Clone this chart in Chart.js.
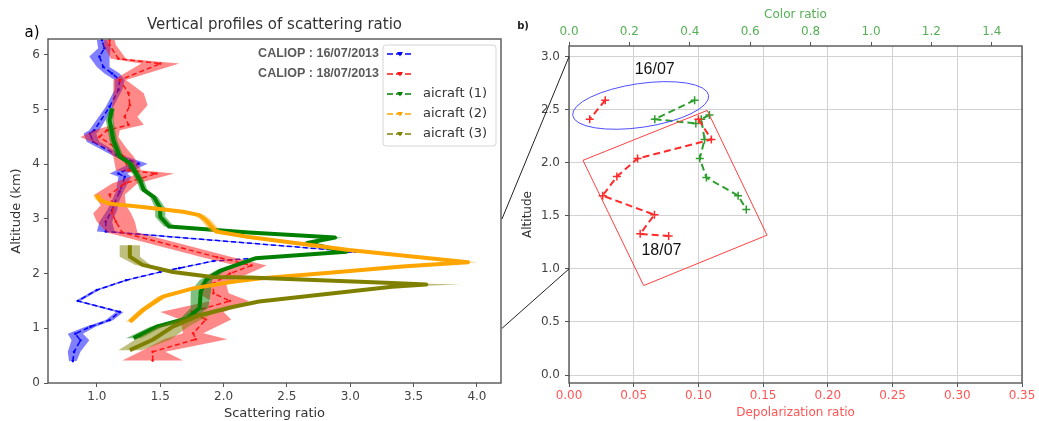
<!DOCTYPE html>
<html>
<head>
<meta charset="utf-8">
<title>Scattering ratio profiles</title>
<script src="https://cdn.jsdelivr.net/npm/chart.js@4.4.1/dist/chart.umd.min.js"></script>
<style>
    html, body { margin: 0; padding: 0; background: #fff; }
    #wrap { position: relative; width: 1039px; height: 421px; overflow: hidden; }
    #wrap canvas { position: absolute; top: 0; }
    #chart-a { left: 0; }
    #chart-b { left: 505px; }
    #links { left: 0; pointer-events: none; }
</style>
</head>
<body>
<div id="wrap">
    <canvas id="chart-a" width="505" height="421"></canvas>
    <canvas id="chart-b" width="534" height="421"></canvas>
    <canvas id="links" width="1039" height="421"></canvas>
</div>
<script>
(function () {
    'use strict';

    // ---- a) vertical profiles: altitude [km], scattering ratio, half-width of shaded band
    var seriesLabels = ['CALIOP : 16/07/2013', 'CALIOP : 18/07/2013', 'aicraft (1)', 'aicraft (2)', 'aicraft (3)'];

    var cal16Alt = [0.40, 0.57, 0.78, 0.90, 1.03, 1.15, 1.30, 1.50, 1.70, 1.88, 2.03, 2.10, 2.23, 2.40, 2.77, 2.95, 3.16, 3.29, 3.50, 3.77, 3.83, 4.01, 4.17, 4.41, 4.56, 4.62, 5.05, 5.36, 5.54, 5.66, 5.78, 5.97, 6.12, 6.27];
    var cal16Sr  = [0.81, 0.82, 0.87, 0.83, 0.95, 1.10, 1.18, 0.85, 1.00, 1.23, 1.50, 1.65, 1.92, 3.04, 1.07, 1.07, 1.12, 1.14, 1.18, 1.22, 1.17, 1.33, 1.155, 0.97, 0.945, 0.98, 1.10, 1.17, 1.18, 1.12, 1.05, 1.02, 1.06, 1.04];
    var cal16Err = [0.03, 0.05, 0.07, 0.06, 0.04, 0.03, 0.03, 0.02, 0.02, 0.02, 0.02, 0.02, 0.02, 0.03, 0.07, 0.05, 0.04, 0.03, 0.03, 0.05, 0.07, 0.07, 0.04, 0.05, 0.05, 0.04, 0.03, 0.03, 0.04, 0.06, 0.05, 0.08, 0.05, 0.04];

    var cal18Alt = [0.41, 0.57, 0.80, 0.91, 1.16, 1.30, 1.50, 1.64, 1.82, 2.00, 2.15, 2.30, 2.75, 2.95, 3.10, 3.25, 3.44, 3.65, 3.83, 3.89, 4.14, 4.29, 4.50, 4.62, 4.72, 4.87, 5.08, 5.30, 5.54, 5.84, 5.93, 6.18, 6.27];
    var cal18Sr  = [1.44, 1.44, 1.78, 1.76, 1.86, 1.75, 2.05, 1.92, 1.92, 2.05, 2.22, 1.95, 1.20, 1.15, 1.12, 1.13, 1.10, 1.22, 1.47, 1.25, 1.21, 1.155, 1.02, 1.08, 1.25, 1.22, 1.26, 1.25, 1.18, 1.50, 1.17, 1.10, 1.10];
    var cal18Err = [0.24, 0.10, 0.25, 0.08, 0.20, 0.25, 0.15, 0.12, 0.10, 0.15, 0.12, 0.12, 0.12, 0.15, 0.15, 0.10, 0.12, 0.10, 0.14, 0.10, 0.08, 0.08, 0.15, 0.10, 0.12, 0.10, 0.14, 0.12, 0.05, 0.15, 0.06, 0.05, 0.04];

    var air1Alt = [0.82, 1.03, 1.18, 1.37, 1.67, 1.88, 2.05, 2.28, 2.40, 2.56, 2.66, 2.75, 2.86, 3.04, 3.20, 3.40, 3.53, 3.71, 4.02, 4.14, 4.44, 4.81, 5.02];
    var air1Sr  = [1.29, 1.47, 1.71, 1.81, 1.82, 1.86, 1.97, 2.25, 2.97, 2.66, 2.88, 2.20, 1.57, 1.50, 1.50, 1.45, 1.37, 1.34, 1.26, 1.18, 1.13, 1.10, 1.12];
    var air1Err = [0.06, 0.05, 0.05, 0.07, 0.08, 0.05, 0.04, 0.03, 0.05, 0.04, 0.06, 0.03, 0.04, 0.04, 0.04, 0.03, 0.03, 0.03, 0.03, 0.03, 0.03, 0.03, 0.02];

    var air2Alt = [1.12, 1.33, 1.58, 1.73, 1.85, 1.91, 2.02, 2.13, 2.21, 2.43, 2.67, 2.77, 2.98, 3.07, 3.13, 3.22, 3.28, 3.35, 3.44];
    var air2Sr  = [1.26, 1.36, 1.52, 1.76, 2.07, 2.28, 2.86, 3.41, 3.93, 2.99, 2.20, 1.94, 1.86, 1.81, 1.68, 1.36, 1.10, 1.02, 1.00];
    var air2Err = [0.03, 0.03, 0.04, 0.04, 0.03, 0.03, 0.03, 0.04, 0.08, 0.04, 0.03, 0.04, 0.04, 0.04, 0.04, 0.04, 0.04, 0.03, 0.03];

    var air3Alt = [0.60, 0.79, 1.03, 1.24, 1.39, 1.49, 1.76, 1.80, 1.83, 1.93, 1.94, 2.03, 2.16, 2.31, 2.52];
    var air3Sr  = [1.26, 1.44, 1.60, 1.81, 2.07, 2.28, 3.33, 3.60, 3.33, 2.20, 1.91, 1.60, 1.36, 1.26, 1.26];
    var air3Err = [0.09, 0.14, 0.12, 0.08, 0.05, 0.04, 0.06, 0.27, 0.06, 0.04, 0.04, 0.04, 0.06, 0.08, 0.08];

    // ---- b) depolarization ratio (bottom axis) and color ratio (top axis)
    var depol16Alt = [2.59, 2.41];
    var depol16    = [0.028, 0.016];
    var depol18Alt = [2.41, 2.22, 2.04, 1.87, 1.69, 1.51, 1.33, 1.31];
    var depol18    = [0.100, 0.110, 0.053, 0.037, 0.026, 0.066, 0.055, 0.077];
    var color16Alt = [2.59, 2.41, 2.37];
    var color16    = [0.416, 0.284, 0.42];
    var color18Alt = [2.45, 2.41, 2.22, 2.04, 1.86, 1.69, 1.56];
    var color18    = [0.465, 0.438, 0.449, 0.433, 0.455, 0.56, 0.587];

    var FONT = 'DejaVu Sans';

    function linePoints(alt, val) {
        return alt.map(function (a, i) { return { x: val[i], y: a }; });
    }

    // polygon: right edge going up, left edge coming back down (fill_betweenx)
    function bandPoints(alt, val, err) {
        var pts = [];
        var i;
        for (i = 0; i < alt.length; i++) pts.push({ x: val[i] + err[i], y: alt[i] });
        for (i = alt.length - 1; i >= 0; i--) pts.push({ x: val[i] - err[i], y: alt[i] });
        return pts;
    }

    var profiles = [
        { alt: cal16Alt, val: cal16Sr, err: cal16Err, rgb: '0,0,255', width: 1.5, dash: [5, 3], radius: 1.3 },
        { alt: cal18Alt, val: cal18Sr, err: cal18Err, rgb: '255,20,20', width: 1.5, dash: [5, 3], radius: 1.3 },
        { alt: air1Alt, val: air1Sr, err: air1Err, rgb: '0,128,0', width: 4, dash: [], radius: 0 },
        { alt: air2Alt, val: air2Sr, err: air2Err, rgb: '255,165,0', width: 4, dash: [], radius: 0 },
        { alt: air3Alt, val: air3Sr, err: air3Err, rgb: '128,128,0', width: 4, dash: [], radius: 0 },
    ];

    var datasetsA = [];
    profiles.forEach(function (p, i) {
        datasetsA.push({
            label: seriesLabels[i] + ' band',
            data: bandPoints(p.alt, p.val, p.err),
            fill: 'shape',
            backgroundColor: 'rgba(' + p.rgb + ',0.5)',
            borderColor: 'rgba(0,0,0,0)',
            borderWidth: 0,
            pointRadius: 0,
            tension: 0,
        });
        datasetsA.push({
            label: seriesLabels[i],
            data: linePoints(p.alt, p.val),
            fill: false,
            borderColor: 'rgb(' + p.rgb + ')',
            backgroundColor: 'rgb(' + p.rgb + ')',
            borderWidth: p.width,
            borderDash: p.dash,
            borderJoinStyle: 'round',
            pointRadius: p.radius,
            pointBorderWidth: 0,
            tension: 0,
        });
    });
    // later series sit on top
    datasetsA.forEach(function (ds, k) { ds.order = datasetsA.length - k; });

    var framePlugin = {
        id: 'frame',
        afterDraw: function (chart) {
            var a = chart.chartArea;
            var ctx = chart.ctx;
            ctx.save();
            ctx.strokeStyle = '#555';
            ctx.lineWidth = 1.4;
            ctx.strokeRect(a.left, a.top, a.right - a.left, a.bottom - a.top);
            ctx.restore();
        }
    };

    var legendRowsY = [54, 74, 94, 114, 134];

    var legendPlugin = {
        id: 'legendA',
        afterDraw: function (chart) {
            var ctx = chart.ctx;
            ctx.save();
            // panel letter
            ctx.fillStyle = '#000';
            ctx.font = '15px "' + FONT + '"';
            ctx.textAlign = 'center';
            ctx.textBaseline = 'middle';
            ctx.fillText('a)', 32, 33);

            // legend box
            ctx.beginPath();
            ctx.roundRect(383, 45, 113, 101, 3);
            ctx.fillStyle = 'rgba(255,255,255,0.85)';
            ctx.fill();
            ctx.strokeStyle = '#d6d6d6';
            ctx.lineWidth = 1;
            ctx.stroke();

            profiles.forEach(function (p, i) {
                var y = legendRowsY[i];
                var col = 'rgb(' + p.rgb + ')';
                ctx.strokeStyle = col;
                ctx.lineWidth = 1.5;
                ctx.setLineDash([6, 3]);
                ctx.beginPath();
                ctx.moveTo(387, y);
                ctx.lineTo(413, y);
                ctx.stroke();
                ctx.setLineDash([]);
                ctx.fillStyle = col;
                ctx.beginPath();
                ctx.moveTo(397, y - 2);
                ctx.lineTo(403, y - 2);
                ctx.lineTo(400, y + 2.5);
                ctx.closePath();
                ctx.fill();

                ctx.textBaseline = 'middle';
                if (i < 2) {
                    ctx.fillStyle = '#5a5a5a';
                    ctx.font = 'bold 12.5px "Liberation Sans"';
                    ctx.textAlign = 'right';
                    ctx.fillText(seriesLabels[i], 379, y);
                } else {
                    ctx.fillStyle = '#333';
                    ctx.font = '13px "' + FONT + '"';
                    ctx.textAlign = 'left';
                    ctx.fillText(seriesLabels[i], 423, y);
                }
            });
            ctx.restore();
        }
    };

    var chartA = new Chart(document.getElementById('chart-a'), {
        type: 'line',
        data: { datasets: datasetsA },
        options: {
            responsive: false,
            animation: false,
            events: [],
            layout: { padding: { top: 0, right: 3, left: 0, bottom: 0 } },
            plugins: {
                legend: { display: false },
                tooltip: { enabled: false },
                title: {
                    display: true,
                    text: 'Vertical profiles of scattering ratio',
                    fullSize: false,
                    color: '#333',
                    font: { family: FONT, size: 15, weight: 'normal' },
                    padding: { top: 16, bottom: 5 },
                },
            },
            scales: {
                x: {
                    type: 'linear',
                    min: 0.614,
                    max: 4.19,
                    afterFit: function (s) { s.height = 38; },
                    border: { display: false },
                    grid: { drawOnChartArea: false, tickLength: 4, tickColor: '#555' },
                    ticks: {
                        stepSize: 0.5, includeBounds: false, padding: 3, color: '#444',
                        font: { family: FONT, size: 12 }, maxRotation: 0, autoSkip: false,
                        callback: function (v) { return v.toFixed(1); },
                    },
                    title: { display: true, text: 'Scattering ratio', color: '#333', font: { family: FONT, size: 13 }, padding: 0 },
                },
                y: {
                    type: 'linear',
                    min: 0,
                    max: 6.29,
                    afterFit: function (s) { s.width = 48; },
                    border: { display: false },
                    grid: { drawOnChartArea: false, tickLength: 4, tickColor: '#555' },
                    ticks: {
                        stepSize: 1, includeBounds: false, padding: 4, color: '#444',
                        font: { family: FONT, size: 12 },
                        callback: function (v) { return String(v); },
                    },
                    title: { display: true, text: 'Altitude (km)', color: '#333', font: { family: FONT, size: 13 }, padding: { top: 9, bottom: 0 } },
                },
            },
        },
        plugins: [framePlugin, legendPlugin],
    });

    // ---- panel b
    var RED = '#ff2b2b';
    var GREEN = '#2e9e2e';

    // annotation shapes, placed in data units (depolarization ratio, altitude)
    var ellipseSpec = { cx: 0.0554, cy: 2.54, rx: 0.0531, ry: 0.206, rot: -0.146 };
    var boxCorners = [[0.1068, 2.493], [0.0108, 2.023], [0.0577, 0.843], [0.1530, 1.318]];
    var dateNotes = [['16/07', 0.0662, 2.875], ['18/07', 0.0714, 1.171]];

    var annotPlugin = {
        id: 'annotB',
        afterDatasetsDraw: function (chart) {
            var ctx = chart.ctx;
            var xs = chart.scales.x;
            var ys = chart.scales.y;
            ctx.save();

            var cx = xs.getPixelForValue(ellipseSpec.cx);
            var cy = ys.getPixelForValue(ellipseSpec.cy);
            var rx = xs.getPixelForValue(ellipseSpec.cx + ellipseSpec.rx) - cx;
            var ry = cy - ys.getPixelForValue(ellipseSpec.cy + ellipseSpec.ry);
            ctx.strokeStyle = '#4d4dff';
            ctx.lineWidth = 1;
            ctx.beginPath();
            ctx.ellipse(cx, cy, rx, ry, ellipseSpec.rot, 0, Math.PI * 2);
            ctx.stroke();

            ctx.strokeStyle = '#ff4040';
            ctx.beginPath();
            boxCorners.forEach(function (c, i) {
                var px = xs.getPixelForValue(c[0]);
                var py = ys.getPixelForValue(c[1]);
                if (i === 0) ctx.moveTo(px, py); else ctx.lineTo(px, py);
            });
            ctx.closePath();
            ctx.stroke();

            ctx.fillStyle = '#111';
            ctx.font = '16px "Liberation Sans"';
            ctx.textAlign = 'center';
            ctx.textBaseline = 'middle';
            dateNotes.forEach(function (n) {
                ctx.fillText(n[0], xs.getPixelForValue(n[1]), ys.getPixelForValue(n[2]));
            });

            ctx.fillStyle = '#222';
            ctx.font = 'bold 10px "' + FONT + '"';
            ctx.fillText('b)', 18, 26);
            ctx.restore();
        }
    };

    function profileB(label, alt, val, color, axis) {
        return {
            label: label,
            data: linePoints(alt, val),
            xAxisID: axis,
            fill: false,
            borderColor: color,
            backgroundColor: color,
            borderWidth: 2,
            borderDash: [7, 4],
            pointStyle: 'cross',
            pointRadius: 4,
            pointBorderWidth: 1.5,
            pointBorderColor: color,
            tension: 0,
        };
    }

    var chartB = new Chart(document.getElementById('chart-b'), {
        type: 'line',
        data: {
            datasets: [
                profileB('Depolarization 16/07', depol16Alt, depol16, RED, 'x'),
                profileB('Depolarization 18/07', depol18Alt, depol18, RED, 'x'),
                profileB('Color ratio 16/07', color16Alt, color16, GREEN, 'x2'),
                profileB('Color ratio 18/07', color18Alt, color18, GREEN, 'x2'),
            ],
        },
        options: {
            responsive: false,
            animation: false,
            events: [],
            layout: { padding: { top: 0, right: 17, left: 0, bottom: 0 } },
            plugins: { legend: { display: false }, tooltip: { enabled: false } },
            scales: {
                x: {
                    type: 'linear',
                    position: 'bottom',
                    min: 0,
                    max: 0.35,
                    afterFit: function (s) { s.height = 38; },
                    border: { display: false },
                    grid: { color: '#d2d2d2', lineWidth: 1, tickLength: 4, tickColor: '#555' },
                    ticks: {
                        stepSize: 0.05, includeBounds: false, padding: 2, color: '#ff5555',
                        font: { family: FONT, size: 12 }, maxRotation: 0, autoSkip: false,
                        callback: function (v) { return v.toFixed(2); },
                    },
                    title: { display: true, text: 'Depolarization ratio', color: '#ff5555', font: { family: FONT, size: 12 }, padding: 1 },
                },
                x2: {
                    type: 'linear',
                    position: 'top',
                    min: 0,
                    max: 1.5,
                    afterFit: function (s) { s.height = 46; },
                    border: { display: false },
                    grid: { drawOnChartArea: false, tickLength: 4, tickColor: '#555' },
                    ticks: {
                        stepSize: 0.2, includeBounds: false, padding: 3, color: '#55b055',
                        font: { family: FONT, size: 12 }, maxRotation: 0, autoSkip: false,
                        callback: function (v) { return v.toFixed(1); },
                    },
                    title: { display: true, text: 'Color ratio', color: '#55b055', font: { family: FONT, size: 12 }, padding: { top: 8, bottom: 0 } },
                },
                y: {
                    type: 'linear',
                    min: -0.075,
                    max: 3.1,
                    afterFit: function (s) { s.width = 64; },
                    border: { display: false },
                    grid: { color: '#d2d2d2', lineWidth: 1, tickLength: 4, tickColor: '#555' },
                    ticks: {
                        stepSize: 0.5, includeBounds: false, padding: 5, color: '#444',
                        font: { family: FONT, size: 12 },
                        callback: function (v) { return v.toFixed(1); },
                    },
                    title: { display: true, text: 'Altitude', color: '#333', font: { family: FONT, size: 12 }, padding: { top: 16, bottom: 0 } },
                },
            },
        },
        plugins: [framePlugin, annotPlugin],
    });

    // zoom lines joining panel a (altitude 3 km and 1 km) to panel b's axis
    var linkAlts = [3, 1];
    var offsetB = 505;
    var lctx = document.getElementById('links').getContext('2d');
    lctx.strokeStyle = '#222';
    lctx.lineWidth = 1;
    lctx.beginPath();
    linkAlts.forEach(function (alt) {
        lctx.moveTo(chartA.chartArea.right + 1, chartA.scales.y.getPixelForValue(alt));
        lctx.lineTo(offsetB + chartB.chartArea.left, chartB.scales.y.getPixelForValue(alt));
    });
    lctx.stroke();
})();
</script>
</body>
</html>
